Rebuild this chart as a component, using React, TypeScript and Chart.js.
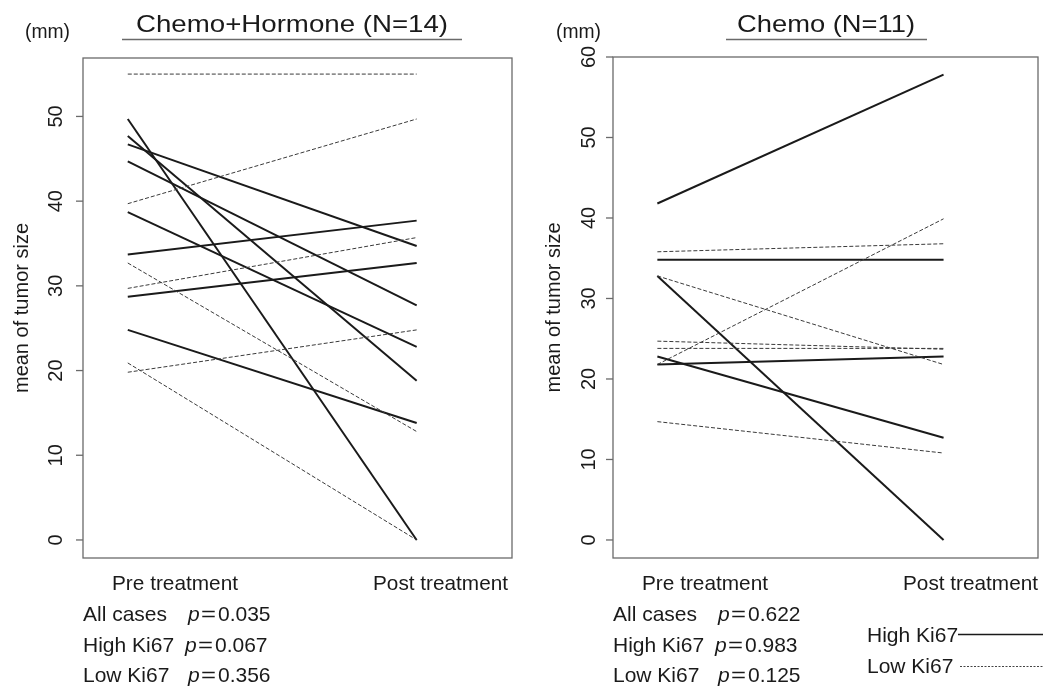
import React, { useEffect, useRef } from "react";
import { Chart, registerables } from "chart.js";
Chart.register(...registerables);

// ---- data (mm) ----
const categories = ["Pre treatment", "Post treatment"];
const catX = [1, 2];

// Chemo+Hormone (N=14)
const chHighPre = [49.7, 47.7, 46.7, 44.7, 38.7, 33.7, 28.7, 24.8];
const chHighPost = [0, 18.8, 34.7, 27.7, 22.8, 37.7, 32.7, 13.8];
const chLowPre = [55, 39.7, 29.7, 32.7, 19.8, 20.9];
const chLowPost = [55, 49.7, 35.7, 12.8, 24.8, 0];

// Chemo (N=11)
const cHighPre = [41.8, 34.8, 32.8, 22.8, 21.8];
const cHighPost = [57.8, 34.8, 0, 12.7, 22.8];
const cLowPre = [35.8, 21.8, 32.8, 24.7, 23.8, 14.7];
const cLowPost = [36.8, 39.9, 21.8, 23.7, 23.8, 10.8];

const ticksLeft = [0, 10, 20, 30, 40, 50];
const ticksRight = [0, 10, 20, 30, 40, 50, 60];

const pLabels = ["All cases", "High Ki67", "Low Ki67"];
const pValuesLeft = ["0.035", "0.067", "0.356"];
const pValuesRight = ["0.622", "0.983", "0.125"];

const W = 1049;
const H = 688;
const FONT = '"Liberation Sans", Arial, Helvetica, sans-serif';
const INK = "#1a1a1a";
const BOX = "#6a6a6a";

function buildDatasets(hp: number[], hq: number[], lp: number[], lq: number[]) {
  const ds: any[] = [];
  lp.forEach((v, i) => {
    ds.push({
      data: [
        { x: catX[0], y: v },
        { x: catX[1], y: lq[i] },
      ],
      borderColor: "#3a3a3a",
      borderWidth: 1,
      borderDash: [4, 2],
      pointRadius: 0,
      fill: false,
    });
  });
  hp.forEach((v, i) => {
    ds.push({
      data: [
        { x: catX[0], y: v },
        { x: catX[1], y: hq[i] },
      ],
      borderColor: INK,
      borderWidth: 2,
      pointRadius: 0,
      fill: false,
    });
  });
  return ds;
}

function fitText(ctx: CanvasRenderingContext2D, text: string, x: number, y: number, width: number) {
  const w = ctx.measureText(text).width;
  ctx.save();
  ctx.translate(x, y);
  ctx.scale(width / w, 1);
  ctx.textAlign = "left";
  ctx.fillText(text, 0, 0);
  ctx.restore();
}

type PanelCfg = {
  id: string;
  ticks: number[];
  tickLabelX: number;
  title: string;
  titleX: number;
  titleW: number;
  ulX0: number;
  ulX1: number;
  mmX: number;
  yTitleX: number;
  xOff: number;
  pValues: string[];
  pX: number[];
  legend: boolean;
};

function decor(cfg: PanelCfg) {
  return {
    id: cfg.id,
    afterDraw(chart: any) {
      const { ctx, chartArea: a, scales } = chart;
      const ys = scales.y;
      ctx.save();
      // box
      ctx.strokeStyle = BOX;
      ctx.lineWidth = 1.3;
      ctx.setLineDash([]);
      ctx.strokeRect(a.left, a.top, a.right - a.left, a.bottom - a.top);
      // ticks
      ctx.fillStyle = INK;
      ctx.font = `20px ${FONT}`;
      cfg.ticks.forEach((t) => {
        const py = ys.getPixelForValue(t);
        ctx.beginPath();
        ctx.moveTo(a.left - 7, py);
        ctx.lineTo(a.left, py);
        ctx.stroke();
        ctx.save();
        ctx.translate(cfg.tickLabelX, py);
        ctx.rotate(-Math.PI / 2);
        ctx.textAlign = "center";
        ctx.textBaseline = "middle";
        ctx.fillText(String(t), 0, 0);
        ctx.restore();
      });
      // y title
      ctx.save();
      ctx.translate(cfg.yTitleX, (a.top + a.bottom) / 2);
      ctx.rotate(-Math.PI / 2);
      ctx.textAlign = "center";
      ctx.textBaseline = "middle";
      ctx.font = `20px ${FONT}`;
      ctx.fillText("mean of tumor size", 0, 0);
      ctx.restore();
      // (mm)
      ctx.font = `20px ${FONT}`;
      ctx.textBaseline = "alphabetic";
      fitText(ctx, "(mm)", cfg.mmX, 38, 45);
      // title
      ctx.font = `24px ${FONT}`;
      fitText(ctx, cfg.title, cfg.titleX, 32, cfg.titleW);
      ctx.beginPath();
      ctx.lineWidth = 1.5;
      ctx.moveTo(cfg.ulX0, 39.5);
      ctx.lineTo(cfg.ulX1, 39.5);
      ctx.stroke();
      // category labels
      ctx.font = `21px ${FONT}`;
      fitText(ctx, categories[0], 112 + cfg.xOff, 590, 126);
      fitText(ctx, categories[1], 373 + cfg.xOff, 590, 135);
      // p values
      const rows = [621, 652, 682];
      pLabels.forEach((lab, i) => {
        ctx.font = `21px ${FONT}`;
        ctx.textAlign = "left";
        ctx.fillText(lab, 83 + cfg.xOff, rows[i]);
        ctx.font = `italic 21px ${FONT}`;
        ctx.fillText("p", cfg.pX[i] + cfg.xOff, rows[i]);
        ctx.font = `21px ${FONT}`;
        fitText(ctx, "=", cfg.pX[i] + cfg.xOff + 13, rows[i], 15);
        ctx.fillText(cfg.pValues[i], cfg.pX[i] + cfg.xOff + 30, rows[i]);
      });
      if (cfg.legend) {
        ctx.font = `21px ${FONT}`;
        ctx.fillText("High Ki67", 867, 642);
        ctx.fillText("Low Ki67", 867, 673);
        ctx.strokeStyle = INK;
        ctx.lineWidth = 1.6;
        ctx.beginPath();
        ctx.moveTo(958, 634.5);
        ctx.lineTo(1043, 634.5);
        ctx.stroke();
        ctx.strokeStyle = "#444";
        ctx.lineWidth = 1;
        ctx.setLineDash([2, 1.5]);
        ctx.beginPath();
        ctx.moveTo(960, 666.5);
        ctx.lineTo(1043, 666.5);
        ctx.stroke();
        ctx.setLineDash([]);
      }
      ctx.restore();
    },
  };
}

function makeChart(
  canvas: HTMLCanvasElement,
  datasets: any[],
  pad: { left: number; top: number; right: number; bottom: number },
  yMin: number,
  yMax: number,
  cfg: PanelCfg
) {
  return new Chart(canvas, {
    type: "line",
    data: { datasets },
    options: {
      responsive: false,
      animation: false,
      devicePixelRatio: 1,
      layout: { padding: pad },
      scales: {
        x: { type: "linear", display: false, min: 0.845, max: 2.33 },
        y: { type: "linear", display: false, min: yMin, max: yMax },
      },
      plugins: { legend: { display: false }, tooltip: { enabled: false } },
      elements: { point: { radius: 0 }, line: { tension: 0 } },
    },
    plugins: [decor(cfg)],
  } as any);
}

export default function App() {
  const leftRef = useRef<HTMLCanvasElement>(null);
  const rightRef = useRef<HTMLCanvasElement>(null);

  useEffect(() => {
    const c1 = makeChart(
      leftRef.current!,
      buildDatasets(chHighPre, chHighPost, chLowPre, chLowPost),
      { left: 83, top: 58, right: W - 512, bottom: H - 558 },
      -2.13,
      56.9,
      {
        id: "decorL",
        ticks: ticksLeft,
        tickLabelX: 56,
        title: "Chemo+Hormone (N=14)",
        titleX: 136,
        titleW: 312,
        ulX0: 122,
        ulX1: 462,
        mmX: 25,
        yTitleX: 22,
        xOff: 0,
        pValues: pValuesLeft,
        pX: [188, 185, 188],
        legend: false,
      }
    );
    const c2 = makeChart(
      rightRef.current!,
      buildDatasets(cHighPre, cHighPost, cLowPre, cLowPost),
      { left: 613, top: 57, right: W - 1038, bottom: H - 558 },
      -2.24,
      60,
      {
        id: "decorR",
        ticks: ticksRight,
        tickLabelX: 589,
        title: "Chemo (N=11)",
        titleX: 737,
        titleW: 178,
        ulX0: 726,
        ulX1: 927,
        mmX: 556,
        yTitleX: 554,
        xOff: 530,
        pValues: pValuesRight,
        pX: [188, 185, 188],
        legend: true,
      }
    );
    return () => {
      c1.destroy();
      c2.destroy();
    };
  }, []);

  return (
    <div style={{ position: "fixed", left: 0, top: 0, width: W, height: H, background: "#fff" }}>
      <canvas ref={leftRef} width={W} height={H} style={{ position: "absolute", left: 0, top: 0 }} />
      <canvas ref={rightRef} width={W} height={H} style={{ position: "absolute", left: 0, top: 0 }} />
    </div>
  );
}
